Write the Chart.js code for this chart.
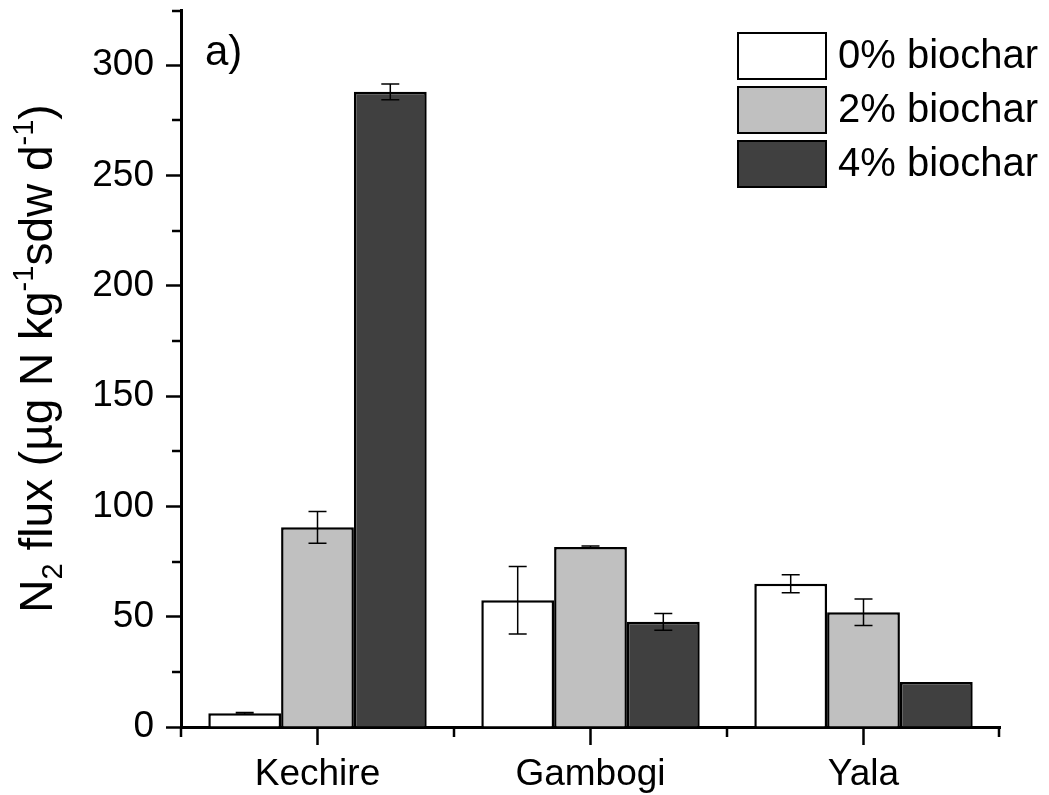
<!DOCTYPE html>
<html>
<head>
<meta charset="utf-8">
<script src="https://cdn.jsdelivr.net/npm/chart.js@4/dist/chart.umd.min.js"></script>
<style>
  html, body { margin: 0; padding: 0; background: #fff; }
  #c { display: block; }
</style>
</head>
<body>
<canvas id="c" width="1049" height="795"></canvas>
<script>
// Sites and biochar treatments
const sites = ['Kechire', 'Gambogi', 'Yala'];
const seriesNames = ['0% biochar', '2% biochar', '4% biochar'];

// Mean N2 flux per site (µg N kg-1 sdw d-1)
const flux0 = [6.2, 57.4, 64.9];
const flux2 = [90.5, 81.6, 52.0];
const flux4 = [287.9, 47.7, 20.4];

// Standard errors
const err0 = [0.4, 15.3, 4.1];
const err2 = [7.2, 0.4, 6.0];
const err4 = [3.6, 3.8, 0];

// Axis ticks
const yMajorTicks = [0, 50, 100, 150, 200, 250, 300];
const yMinorTicks = [25, 75, 125, 175, 225, 275, 325];
const yMax = 325;

const FONT = "'Liberation Sans', Arial, Helvetica, sans-serif";
const fills = ['#ffffff', '#c0c0c0', '#404040'];
const errors = [err0, err2, err4];

// Error bars, minor ticks, y title, panel tag and legend
const extras = {
  id: 'extras',
  afterDatasetsDraw(chart) {
    const ctx = chart.ctx;
    const ys = chart.scales.y;
    ctx.save();
    ctx.strokeStyle = '#000';
    ctx.lineWidth = 1.5;
    chart.data.datasets.forEach((ds, i) => {
      const meta = chart.getDatasetMeta(i);
      meta.data.forEach((bar, j) => {
        const e = errors[i][j];
        if (!e) return;
        const v = ds.data[j];
        const yt = ys.getPixelForValue(v + e);
        const yb = ys.getPixelForValue(v - e);
        const x = bar.x, cap = 9;
        ctx.beginPath();
        ctx.moveTo(x, yt); ctx.lineTo(x, yb);
        ctx.moveTo(x - cap, yt); ctx.lineTo(x + cap, yt);
        ctx.moveTo(x - cap, yb); ctx.lineTo(x + cap, yb);
        ctx.stroke();
      });
    });
    ctx.restore();
  },
  afterDraw(chart) {
    const ctx = chart.ctx;
    const ca = chart.chartArea;
    const xs = chart.scales.x, ys = chart.scales.y;
    ctx.save();
    ctx.strokeStyle = '#000';
    ctx.lineWidth = 2.5;

    // minor y ticks
    yMinorTicks.forEach(v => {
      let y = Math.round(ys.getPixelForValue(v));
      if (v === yMax) y += 1;
      ctx.beginPath();
      ctx.moveTo(ca.left - 9, y); ctx.lineTo(ca.left, y);
      ctx.stroke();
    });
    // minor x ticks at category boundaries
    const step = (ca.right - ca.left) / sites.length;
    for (let k = 0; k <= sites.length; k++) {
      let x = ca.left + k * step;
      if (k === sites.length) x -= 1;
      ctx.beginPath();
      ctx.moveTo(x, ca.bottom); ctx.lineTo(x, ca.bottom + 10);
      ctx.stroke();
    }

    // y-axis title with subscript and superscripts
    const size = 46, small = 29;
    const parts = [
      ['N', 0, size], ['2', 10, small], [' flux (µg N kg', 0, size],
      ['-1', -19, small], ['sdw d', 0, size], ['-1', -19, small], [')', 0, size]
    ];
    let total = 0;
    parts.forEach(p => { ctx.font = p[2] + 'px ' + FONT; total += ctx.measureText(p[0]).width; });
    ctx.translate(52, (ca.top + ca.bottom) / 2 - 10);
    ctx.rotate(-Math.PI / 2);
    ctx.fillStyle = '#000';
    ctx.textBaseline = 'alphabetic';
    ctx.textAlign = 'left';
    let cx = -total / 2;
    parts.forEach(p => {
      ctx.font = p[2] + 'px ' + FONT;
      ctx.fillText(p[0], cx, p[1]);
      cx += ctx.measureText(p[0]).width;
    });
    ctx.setTransform(1, 0, 0, 1, 0, 0);

    // panel tag
    ctx.font = '42px ' + FONT;
    ctx.fillText('a)', 205, 65);

    // legend
    const lx = 737, ly = 32, bw = 90, bh = 48, gap = 6;
    chart.data.datasets.forEach((ds, i) => {
      const y = ly + i * (bh + gap);
      ctx.fillStyle = ds.backgroundColor;
      ctx.fillRect(lx, y, bw, bh);
      ctx.lineWidth = 2;
      ctx.strokeStyle = '#000';
      ctx.strokeRect(lx + 1, y + 1, bw - 2, bh - 2);
      ctx.fillStyle = '#000';
      ctx.font = '40px ' + FONT;
      ctx.textBaseline = 'middle';
      ctx.fillText(ds.label, 838, y + bh / 2 + 1);
    });
    ctx.restore();
  }
};

new Chart(document.getElementById('c'), {
  type: 'bar',
  data: {
    labels: sites,
    datasets: [flux0, flux2, flux4].map((d, i) => ({
      label: seriesNames[i],
      data: d,
      backgroundColor: fills[i],
      borderColor: '#000',
      borderWidth: 2.5
    }))
  },
  options: {
    responsive: false,
    animation: false,
    devicePixelRatio: 1,
    layout: { padding: { top: 10, right: 49, left: 0, bottom: 0 } },
    datasets: { bar: { categoryPercentage: 0.8, barPercentage: 1 } },
    plugins: { legend: { display: false }, tooltip: { enabled: false } },
    scales: {
      x: {
        offset: true,
        grid: { offset: false, drawOnChartArea: false, tickLength: 18, tickWidth: 2.5, tickColor: '#000' },
        border: { display: true, color: '#000', width: 3 },
        ticks: { color: '#000', font: { family: FONT, size: 37 }, padding: 8, maxRotation: 0 },
        afterFit(s) { s.height = 68; s.paddingLeft = 0; s.paddingRight = 0; }
      },
      y: {
        min: 0,
        max: yMax,
        afterBuildTicks(s) { s.ticks = yMajorTicks.map(v => ({ value: v })); },
        grid: { drawOnChartArea: false, tickLength: 15, tickWidth: 2.5, tickColor: '#000' },
        border: { display: true, color: '#000', width: 3 },
        ticks: { color: '#000', font: { family: FONT, size: 37 }, padding: 12 },
        afterFit(s) { s.width = 181; s.paddingTop = 0; s.paddingBottom = 0; }
      }
    }
  },
  plugins: [extras]
});
</script>
</body>
</html>
